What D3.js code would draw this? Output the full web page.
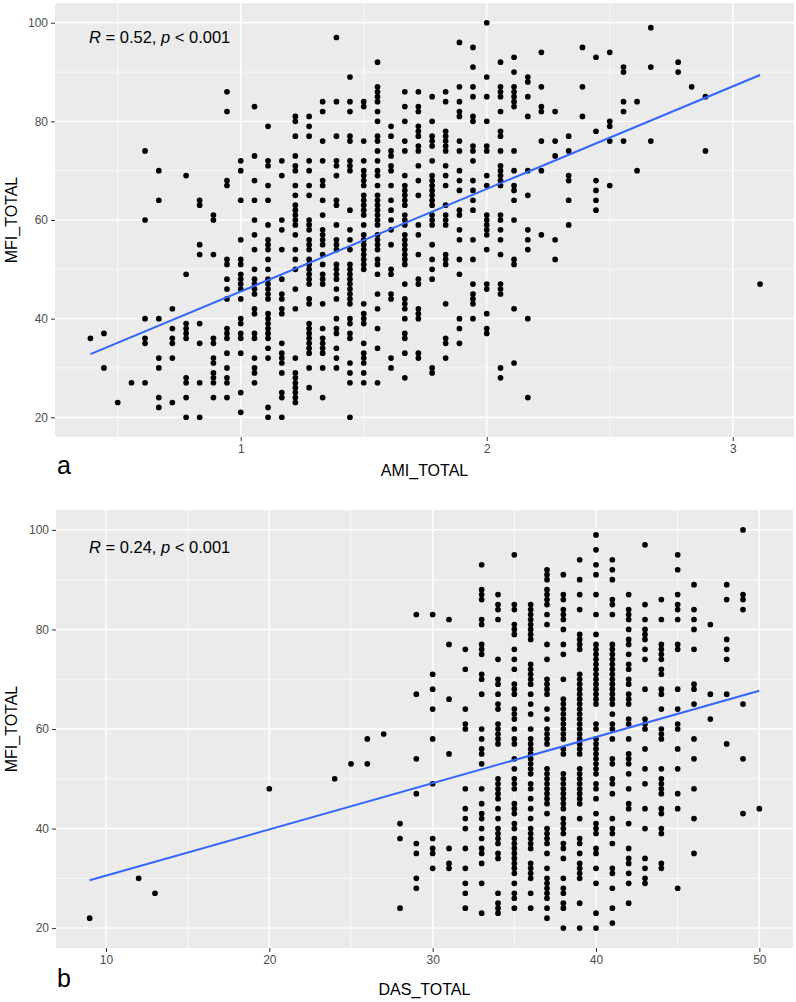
<!DOCTYPE html>
<html><head><meta charset="utf-8">
<script src="https://cdn.jsdelivr.net/npm/d3@7"></script>
<style>body{margin:0;background:#fff}text{font-family:"Liberation Sans",Arial,sans-serif}</style>
</head><body><svg id="c" width="796" height="1002"></svg>
<script>
// ---------- Panel a: AMI_TOTAL vs MFI_TOTAL ----------
const amiX = [0.389,0.444,0.5,0.556,0.611,0.667,0.722,0.778,0.833,0.889,0.944,1,1.056,1.111,1.167,1.222,1.278,1.333,1.389,1.444,1.5,1.556,1.611,1.667,1.722,1.778,1.833,1.889,1.944,2,2.056,2.111,2.167,2.222,2.278,2.333,2.389,2.444,2.5,2.556,2.611,2.667,2.778,2.833,2.889,3.111];
const amiMfi = [
 [36],[37,30],[23],[27],
 [74,60,40,36,35,27],
 [70,64,40,32,30,24,22],
 [42,38,36,35,32,23],
 [69,49,39,38,37,36,28,27,24,20],
 [64,63,55,53,39,35,27,20],
 [61,60,53,36,35,32,31,29,28,27,24],
 [86,82,68,67,52,51,48,46,44,38,37,36,33,30,28,27,24],
 [72,70,64,56,52,51,49,48,47,46,44,40,39,37,36,33,25,21],
 [83,73,68,64,60,57,54,50,48,47,46,45,42,41,37,36,32,30,29,27],
 [79,72,71,67,64,59,56,55,54,52,50,48,47,46,45,44,41,40,39,38,37,36,34,32,22,20],
 [72,69,60,58,54,48,45,44,42,41,35,33,32,31,29,25,24,20],
 [81,80,77,73,71,70,67,65,63,62,61,60,59,57,54,52,50,46,42,32,29,28,27,26,25,24,23],
 [81,79,77,72,70,67,65,60,59,58,56,55,54,52,51,50,49,48,47,44,43,39,38,37,36,35,34,33,30,26],
 [84,82,76,72,68,67,64,61,58,57,56,55,53,51,49,48,47,43,38,36,35,34,33,30,24],
 [97,84,77,72,71,69,64,63,59,56,55,54,51,50,49,48,46,44,40,38,37,34,32,30],
 [89,84,82,77,76,72,71,70,62,58,56,54,51,50,49,48,47,46,45,44,43,40,39,37,36,31,29,27,20],
 [84,83,76,72,70,69,68,67,65,64,63,62,61,59,57,56,55,54,53,52,51,50,43,41,40,39,35,33,32,31,29,27],
 [92,87,86,85,84,82,80,77,76,74,72,70,69,67,65,64,63,62,61,60,59,57,56,55,54,52,51,49,45,42,38,34,27],
 [79,77,74,73,71,70,67,64,62,60,58,55,50,49,45,44,32,30],
 [86,83,80,76,74,69,67,66,65,64,63,61,60,59,57,56,55,54,53,52,51,47,44,43,42,40,37,36,33,28],
 [86,83,82,79,78,77,75,74,71,68,65,59,57,53,48,47,42,41,40,33,32],
 [85,80,77,76,75,72,69,68,67,66,65,64,63,61,60,59,55,52,50,48,30,29],
 [86,84,78,77,76,75,74,71,69,67,63,61,60,59,53,52,51,43,36,35,32],
 [96,87,84,82,81,76,74,70,68,66,62,61,58,56,52,49,40,38,35],
 [95,91,87,85,81,80,75,74,72,68,66,64,62,56,52,47,45,44,43,40],
 [100,89,85,80,75,74,69,67,61,60,59,58,57,54,47,46,41,38,37],
 [92,87,86,85,82,78,77,74,71,70,69,68,67,61,60,58,56,53,47,46,45,30,28],
 [93,90,87,86,85,84,83,74,70,67,66,64,60,52,51,42,31],
 [89,88,85,81,70,65,58,56,54,40,24],
 [94,87,83,82,76,70,57],
 [82,76,73,56,52],
 [77,74,69,68,64,59],
 [95,87,81],
 [93,78,68,66,64,62],
 [94,80,79,76,67],
 [91,90,84,82,76],
 [84,70],
 [99,91,76],
 [92,90],
 [87],
 [85,74],
 [47]
];
const amiFitX = [0.389, 3.111];
const amiFitY = [32.8, 89.4];
const amiTicksX = [1, 2, 3];
const amiLabel = ["R", " = 0.52, ", "p", " < 0.001"];

// ---------- Panel b: DAS_TOTAL vs MFI_TOTAL ----------
const dasX = [9,12,13,20,24,25,26,27,28,29,30,31,32,33,34,35,36,37,38,39,40,41,42,43,44,45,46,47,48,49,50];
const dasMfi = [
 [22],[30],[27],[48],[50],[53],[58,53],[59],[41,38,24],
 [83,67,54,47,37,35,30,28],
 [83,71,68,64,58,49,38,36,35,32],
 [82,77,66,55,36,33,32],
 [76,72,64,61,60,48,44,42,40,36,32,29,27,24],
 [93,88,87,86,82,81,77,76,75,71,70,67,60,58,56,55,53,48,45,43,42,40,38,36,35,33,29,23],
 [87,85,84,82,74,70,69,67,65,64,61,60,59,58,57,50,49,48,47,46,44,42,40,39,38,37,35,34,27,25,24,23],
 [95,85,84,81,80,79,76,74,72,69,68,67,64,63,62,60,58,57,54,52,50,49,48,45,44,43,41,40,38,37,36,35,34,33,32,31,29,27,26,24],
 [85,84,83,82,81,80,79,78,73,72,71,70,69,67,65,63,60,58,57,56,55,54,53,52,51,49,48,46,44,42,40,39,38,37,36,33,32,31,30,27,24],
 [92,91,90,88,87,86,85,83,81,77,74,70,69,68,67,64,62,60,59,58,57,52,51,50,49,48,47,46,45,43,40,39,38,37,35,32,30,29,28,27,26,24,22],
 [91,87,86,84,83,82,80,77,75,70,66,65,64,63,62,61,60,59,58,56,55,51,50,49,48,47,46,45,44,42,41,40,39,37,36,34,30,28,27,25,24,20],
 [94,90,87,84,79,78,77,76,71,70,69,68,67,66,65,64,63,62,61,60,59,58,57,56,55,52,51,50,49,48,47,46,45,42,38,37,35,33,32,31,30,25,20],
 [99,96,93,91,87,83,79,77,76,75,74,73,72,71,70,69,68,67,66,65,61,60,58,57,56,55,54,53,52,51,49,48,46,43,41,40,39,36,35,32,29,23,20],
 [94,92,90,86,85,83,77,76,75,74,73,72,71,70,69,68,67,66,65,63,61,60,58,54,53,50,49,47,42,40,39,37,32,31,28,24,21],
 [87,84,83,82,80,78,77,75,73,72,70,69,67,66,65,62,61,58,55,54,53,51,48,45,44,41,36,34,33,31,29,25],
 [97,85,82,80,79,78,76,74,68,62,61,60,56,52,49,44,40,34,32,30,29],
 [86,82,77,76,75,74,72,71,68,67,64,60,59,58,52,50,49,48,47,44,43,40,39,33,32],
 [95,92,87,85,84,82,77,76,68,64,61,60,56,52,47,44,28],
 [89,84,82,80,76,69,68,65,58,54,48,42,35],
 [81,67,62],
 [89,86,78,76,74,67,57],
 [100,87,86,84,65,54,43],
 [44]
];
const dasFitX = [9, 50];
const dasFitY = [29.6, 67.7];
const dasTicksX = [10, 20, 30, 40, 50];
const dasLabel = ["R", " = 0.24, ", "p", " < 0.001"];
const mfiTicks = [20, 40, 60, 80, 100];

const svg = d3.select("#c");

function panel(cfg) {
  const x = d3.scaleLinear().domain(cfg.xDomain).range([cfg.left, cfg.right]);
  const y = d3.scaleLinear().domain([16, 104]).range([cfg.bottom, cfg.top]);
  const g = svg.append("g");
  g.append("rect").attr("x", cfg.left).attr("y", cfg.top)
    .attr("width", cfg.right - cfg.left).attr("height", cfg.bottom - cfg.top).attr("fill", "#EBEBEB");
  // minor grid
  g.selectAll(".mx").data(cfg.minorX).enter().append("line")
    .attr("x1", d => x(d)).attr("x2", d => x(d)).attr("y1", cfg.top).attr("y2", cfg.bottom)
    .attr("stroke", "#fff").attr("stroke-width", 0.7);
  g.selectAll(".my").data([30, 50, 70, 90]).enter().append("line")
    .attr("y1", d => y(d)).attr("y2", d => y(d)).attr("x1", cfg.left).attr("x2", cfg.right)
    .attr("stroke", "#fff").attr("stroke-width", 0.7);
  // major grid
  g.selectAll(".Mx").data(cfg.ticksX).enter().append("line")
    .attr("x1", d => x(d)).attr("x2", d => x(d)).attr("y1", cfg.top).attr("y2", cfg.bottom)
    .attr("stroke", "#fff").attr("stroke-width", 1.4);
  g.selectAll(".My").data(mfiTicks).enter().append("line")
    .attr("y1", d => y(d)).attr("y2", d => y(d)).attr("x1", cfg.left).attr("x2", cfg.right)
    .attr("stroke", "#fff").attr("stroke-width", 1.4);
  // points
  const pts = [];
  cfg.xs.forEach((xv, i) => cfg.ys[i].forEach(yv => pts.push([xv, yv])));
  g.selectAll(".pt").data(pts).enter().append("circle")
    .attr("cx", d => x(d[0])).attr("cy", d => y(d[1])).attr("r", 2.85).attr("fill", "#000");
  // fit line
  g.append("path").datum(cfg.fitX.map((v, i) => [v, cfg.fitY[i]]))
    .attr("d", d3.line().x(d => x(d[0])).y(d => y(d[1])))
    .attr("stroke", "#3366FF").attr("stroke-width", 2).attr("fill", "none");
  // axes
  const ax = g.append("g").attr("transform", `translate(0,${cfg.bottom})`)
    .call(d3.axisBottom(x).tickValues(cfg.ticksX).tickFormat(d3.format("d")).tickSize(4).tickPadding(3));
  const ay = g.append("g").attr("transform", `translate(${cfg.left},0)`)
    .call(d3.axisLeft(y).tickValues(mfiTicks).tickFormat(d3.format("d")).tickSize(4).tickPadding(3));
  [ax, ay].forEach(a => {
    a.select(".domain").remove();
    a.selectAll(".tick line").attr("stroke", "#333").attr("stroke-width", 1);
    a.selectAll(".tick text").attr("fill", "#4D4D4D").style("font-size", "12px")
      .style("font-family", '"Liberation Sans",Arial,sans-serif');
  });
  // titles
  g.append("text").attr("x", (cfg.left + cfg.right) / 2).attr("y", cfg.xTitleY)
    .attr("text-anchor", "middle").style("font-size", "16px").attr("fill", "#000").text(cfg.xTitle);
  g.append("text").attr("transform", `translate(17,${(cfg.top + cfg.bottom) / 2}) rotate(-90)`)
    .attr("text-anchor", "middle").style("font-size", "16px").attr("fill", "#000").text("MFI_TOTAL");
  const t = g.append("text").attr("x", 89).attr("y", cfg.labelY).style("font-size", "16.5px").attr("fill", "#000");
  cfg.label.forEach((s, i) => t.append("tspan").attr("font-style", i % 2 === 0 ? "italic" : "normal").text(s));
  g.append("text").attr("x", 57).attr("y", cfg.letterY).style("font-size", "25px").attr("fill", "#000").text(cfg.letter);
}

panel({left: 55, right: 794, top: 3, bottom: 437, xDomain: [0.245, 3.249],
  xs: amiX, ys: amiMfi, fitX: amiFitX, fitY: amiFitY, ticksX: amiTicksX, minorX: [0.5, 1.5, 2.5],
  xTitle: "AMI_TOTAL", xTitleY: 476, label: amiLabel, labelY: 43, letter: "a", letterY: 474});
panel({left: 56, right: 793, top: 510, bottom: 948, xDomain: [6.94, 52.06],
  xs: dasX, ys: dasMfi, fitX: dasFitX, fitY: dasFitY, ticksX: dasTicksX, minorX: [15, 25, 35, 45],
  xTitle: "DAS_TOTAL", xTitleY: 995, label: dasLabel, labelY: 553, letter: "b", letterY: 987});
</script></body></html>
